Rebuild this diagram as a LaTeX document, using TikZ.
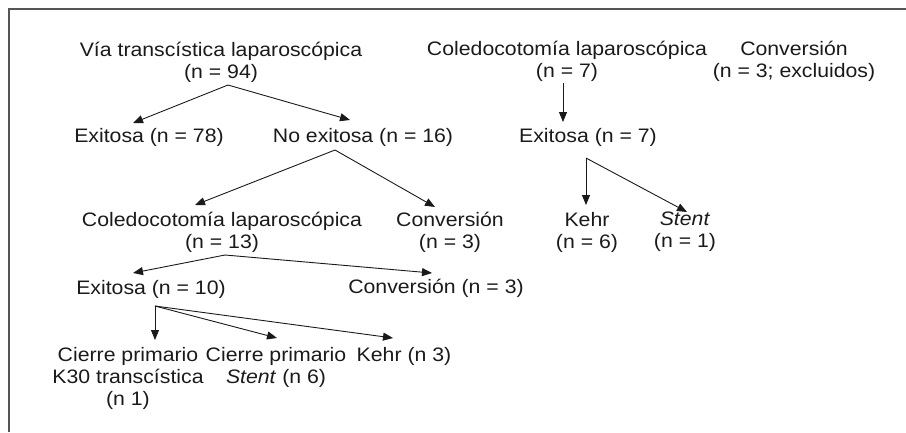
\documentclass[tikz,border=0pt]{standalone}
\usepackage{fontspec}
\setmainfont{Liberation Sans}[FakeStretch=1.09]
\usetikzlibrary{arrows.meta}
\definecolor{txt}{HTML}{1A1A1A}
\definecolor{frame}{HTML}{555555}
\begin{document}
\begin{tikzpicture}[x=1pt,y=-1pt,
  lbl/.style={inner sep=0pt,align=center,text=txt,font=\fontsize{19.5}{22}\selectfont},
  arr/.style={draw=txt,line width=0.9pt,-{Triangle[length=10pt,width=8pt]}}]
\useasboundingbox (0,0) rectangle (906,432);
\draw[frame,line width=1.5pt] (9,432) -- (9,9) -- (906,9);
% left tree
\node[lbl] (via) at (221,62) {Vía transcística laparoscópica\\(n = 94)};
\node[lbl] (e78) at (149,137) {Exitosa (n = 78)};
\node[lbl] (noex) at (363,137) {No exitosa (n = 16)};
\node[lbl] (cole13) at (222,232) {Coledocotomía laparoscópica\\(n = 13)};
\node[lbl] (conv3a) at (450,232) {Conversión\\(n = 3)};
\node[lbl] (e10) at (151,289) {Exitosa (n = 10)};
\node[lbl] (conv3b) at (436,288) {Conversión (n = 3)};
\node[lbl] (cp1) at (128,378) {Cierre primario\\K30 transcística\\(n 1)};
\node[lbl] (cp2) at (276,367) {Cierre primario\\\textit{Stent} (n 6)};
\node[lbl] (kehr3) at (404,356) {Kehr (n 3)};
% right tree
\node[lbl] (cole7) at (567,61) {Coledocotomía laparoscópica\\(n = 7)};
\node[lbl] (convex) at (794,61) {Conversión\\(n = 3; excluidos)};
\node[lbl] (e7) at (588,137) {Exitosa (n = 7)};
\node[lbl] (kehr6) at (587,232) {Kehr\\(n = 6)};
\node[lbl] (stent1) at (685,232) {\textit{Stent}\\(n = 1)};
% connectors
\draw[arr] ([shift={(7,23)}]via.center) -- ([shift={(-16,-14)}]e78.center);
\draw[arr] ([shift={(7,23)}]via.center) -- ([shift={(-13,-17)}]noex.center);
\draw[arr] ([shift={(-28,13)}]noex.center) -- ([shift={(-27,-27)}]cole13.center);
\draw[arr] ([shift={(-28,13)}]noex.center) -- ([shift={(-15,-25)}]conv3a.center);
\draw[arr] ([shift={(3,23)}]cole13.center) -- ([shift={(-18,-16)}]e10.center);
\draw[arr] ([shift={(3,23)}]cole13.center) -- ([shift={(-4,-15)}]conv3b.center);
\draw[arr] ([shift={(4,17)}]e10.center) -- ([shift={(27,-38)}]cp1.center);
\draw[arr] ([shift={(4,17)}]e10.center) -- ([shift={(1,-29)}]cp2.center);
\draw[arr] ([shift={(4,17)}]e10.center) -- ([shift={(-11,-18)}]kehr3.center);
\draw[arr] ([shift={(-4,22)}]cole7.center) -- ([shift={(-25,-15)}]e7.center);
\draw[arr] ([shift={(-2,21)}]e7.center) -- ([shift={(-1,-27)}]kehr6.center);
\draw[arr] ([shift={(-2,21)}]e7.center) -- ([shift={(2,-20)}]stent1.center);
\end{tikzpicture}
\end{document}
